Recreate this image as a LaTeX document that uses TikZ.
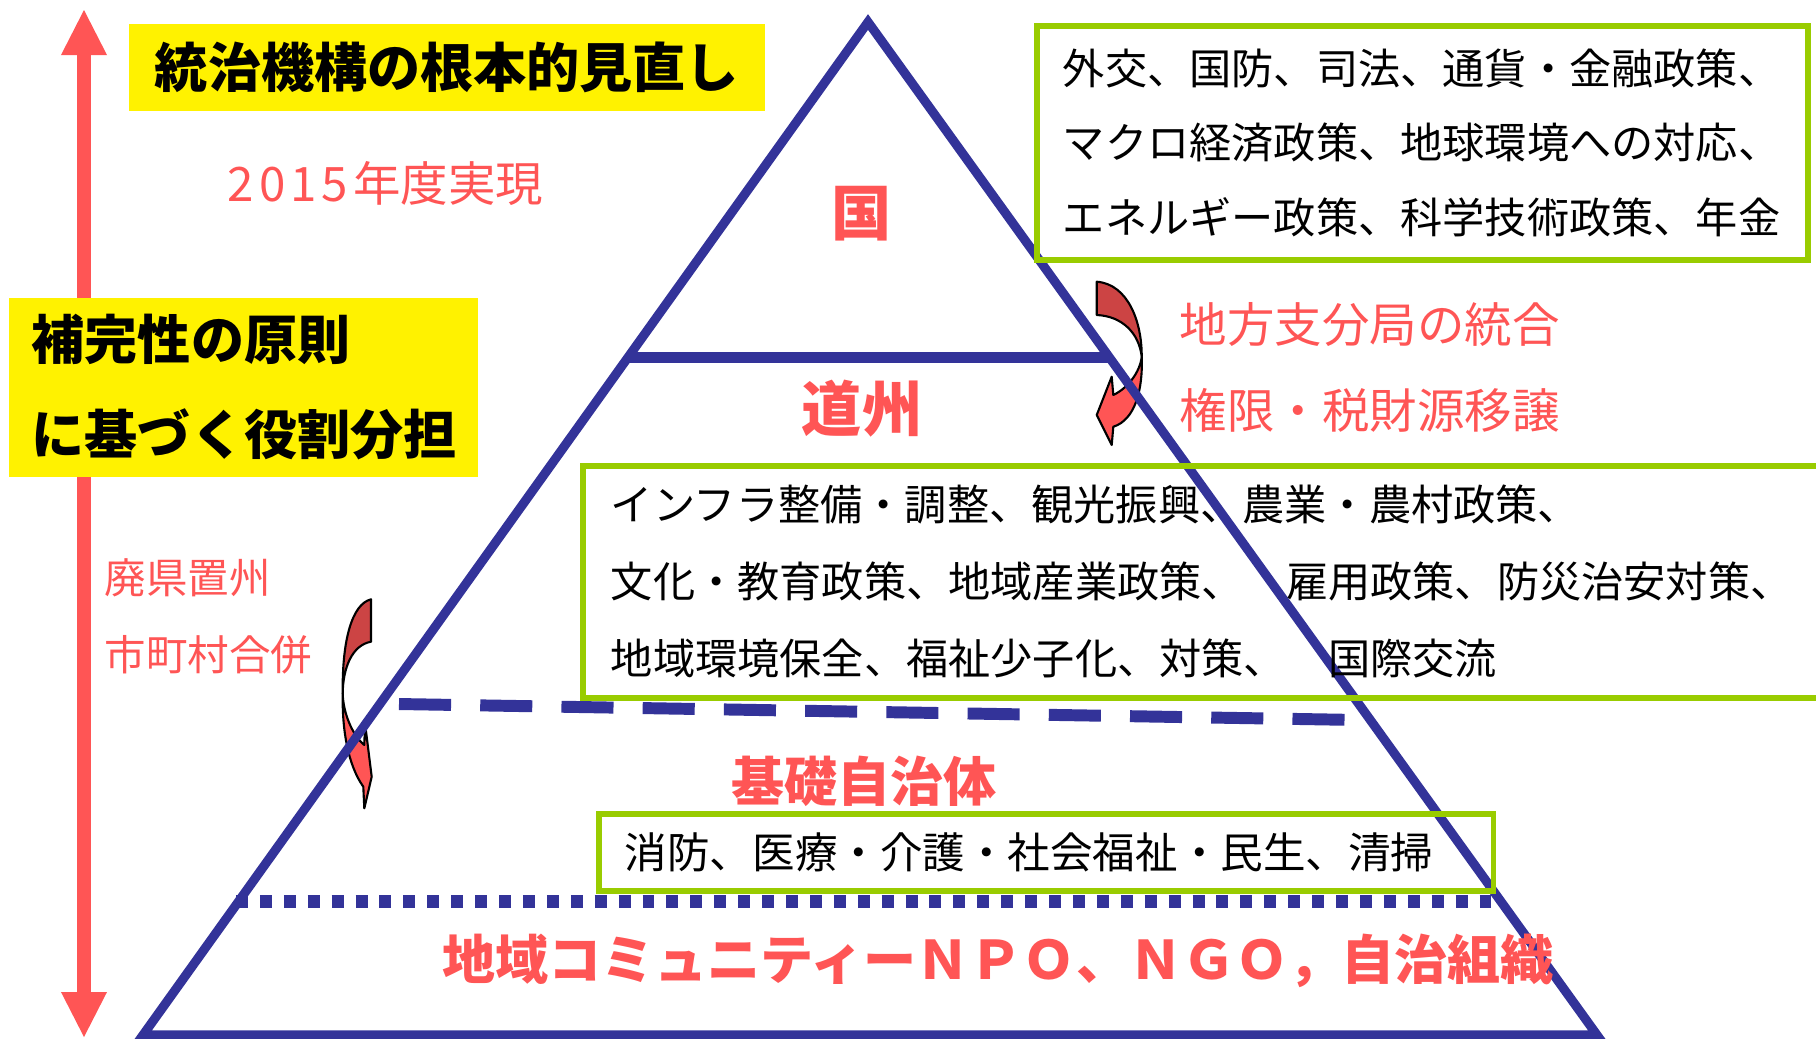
\documentclass[tikz,border=0pt]{standalone}
\usepackage{fontspec}
\setmainfont{Noto Sans CJK JP}
\usepackage{tikz}
\usetikzlibrary{arrows.meta,positioning}

\definecolor{pyrblue}{HTML}{333399}
\definecolor{boxgreen}{HTML}{99CC00}
\definecolor{txtred}{HTML}{FF5555}
\definecolor{arrdark}{HTML}{CC4444}
\definecolor{arrlight}{HTML}{FF5555}

\begin{document}
\begin{tikzpicture}[
    x=0.01cm, y=-0.01cm,
    pyr/.style={draw=pyrblue, line width=2.6pt},
    greenbox/.style={draw=boxgreen, line width=1.6pt, inner ysep=0pt, align=left,
        anchor=north west, font=\fontsize{12}{21.1}\selectfont},
    yellowbox/.style={fill=yellow, inner sep=0pt, font=\bfseries\fontsize{15.1}{27}\selectfont},
    redlabel/.style={text=txtred, inner sep=0pt, font=\bfseries\fontsize{15.1}{18}\selectfont},
    redtext/.style={text=txtred, inner sep=0pt, anchor=west, font=\fontsize{13.5}{16}\selectfont},
    twist/.style={draw=black, line width=0.6pt, line join=round},
    bothheads/.style={{Triangle[length=4.5mm, width=4.6mm, line width=0pt]}-{Triangle[length=4.5mm, width=4.6mm, line width=0pt]}}
]
\useasboundingbox (0,0) rectangle (1816,1038);
\clip (0,0) rectangle (1816,1038);

% Scale arrow
\coordinate (atop) at (84,10);
\coordinate (abot) at (84,1037);
\draw[txtred, line width=3.7pt, bothheads] (atop) -- (abot);

% Yellow titles
\node[yellowbox, minimum width=6.36cm, minimum height=0.87cm] (title) at (447,67.5) {統治機構の根本的見直し};
\node[yellowbox, anchor=north west, minimum width=4.69cm, minimum height=1.79cm,
      text width=4.23cm, inner xsep=0.23cm, align=left] (hokan) at (8,297) {補完性の原則\\に基づく役割分担};

% Twisted arrows
\filldraw[twist, fill=arrdark] (1096.7,281.7) .. controls (1128,284) and (1142,322) .. (1141.7,356.7)
    .. controls (1139,333) and (1122,316) .. (1096.7,315) -- cycle;
\filldraw[twist, fill=arrlight] (1141.7,356.7) .. controls (1140,372) and (1128,388) .. (1113.3,395)
    -- (1111.7,376.7) -- (1096.7,415) -- (1111.7,445) -- (1113.3,426.7)
    .. controls (1135,420) and (1143,390) .. (1141.7,356.7) -- cycle;
\filldraw[twist, fill=arrdark] (371,599.3) .. controls (352,604) and (342,640) .. (342.7,693.3)
    .. controls (343,668) and (352,645) .. (371,641.7) -- cycle;
\filldraw[twist, fill=arrlight] (342.7,693.3) .. controls (343,712) and (352,735) .. (364.3,745)
    -- (365,723.3) -- (371.7,776.7) -- (364.3,808.3) -- (363.3,786.7)
    .. controls (348,765) and (342,730) .. (342.7,693.3) -- cycle;

% Pyramid
\coordinate (apex) at (868,22);
\coordinate (bl) at (143,1035);
\coordinate (br) at (1597,1035);
\draw[pyr] (apex) -- (br) -- (bl) -- cycle;
\coordinate (h1) at (628,357.5);
\coordinate (h2) at (1110,357.5);
\draw[draw=pyrblue, line width=3.1pt] (h1) -- (h2);
\coordinate (d1) at (399,704);
\coordinate (d2) at (1360,720);
\draw[draw=pyrblue, line width=3.4pt, dash pattern=on 14.8pt off 8.3pt] (d1) -- (d2);
\coordinate (p1) at (236,901.5);
\coordinate (p2) at (1494,901.5);
\draw[draw=pyrblue, line width=3.7pt, dash pattern=on 3.4pt off 3.4pt] (p1) -- (p2);

% Green boxes
\node[greenbox, text width=7.19cm, minimum height=2.34cm, inner xsep=0.26cm] (kunibox) at (1034,23)
    {外交、国防、司法、通貨・金融政策、\\マクロ経済政策、地球環境への対応、\\エネルギー政策、科学技術政策、年金};
\node[greenbox, text width=12.3cm, minimum height=2.32cm, inner xsep=0.28cm,
      font=\fontsize{12}{21.9}\selectfont] (doshubox) at (580,463)
    {インフラ整備・調整、観光振興、農業・農村政策、\\文化・教育政策、地域産業政策、　雇用政策、防災治安対策、\\地域環境保全、福祉少子化、対策、　国際交流};
\node[greenbox, text width=8.42cm, minimum height=0.77cm, inner xsep=0.26cm,
      font=\fontsize{12.1}{14}\selectfont] (kisobox) at (596,811) {消防、医療・介護・社会福祉・民生、清掃};

% Level labels
\node[redlabel, font=\bfseries\fontsize{17.1}{20}\selectfont] (kuni) at (862,214) {国};
\node[redlabel, font=\bfseries\fontsize{17.1}{20}\selectfont] (doshu) at (862,409) {道州};
\node[redlabel] (kiso) at (864,781) {基礎自治体};
\node[redlabel] (chiiki) at (998,961) {地域コミュニティーＮＰＯ、ＮＧＯ，自治組織};

% Side notes
\node[redtext] (jitsugen) at (227,183) {2\kern0.5mm 0\kern0.5mm 1\kern0.5mm 5\kern0.5mm 年度実現};
\node[redtext] (shibu) at (1179,324) {地方支分局の統合};
\node[redtext, below=0.86cm of shibu.west, anchor=west] (kengen) {権限・税財源移譲};
\node[redtext, font=\fontsize{11.8}{14}\selectfont] (haiken) at (104,578) {廃県置州};
\node[redtext, font=\fontsize{11.8}{14}\selectfont, below=0.77cm of haiken.west, anchor=west] (gappei) {市町村合併};

\end{tikzpicture}
\end{document}
